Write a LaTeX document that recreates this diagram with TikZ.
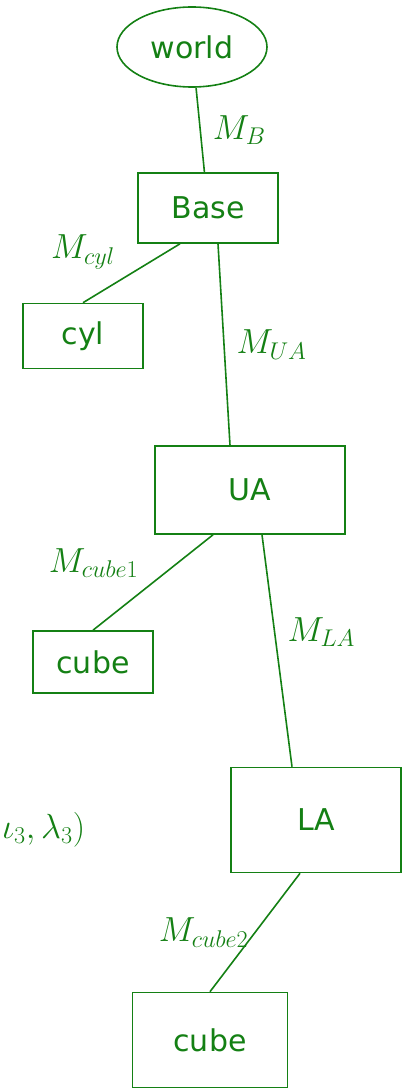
\documentclass[tikz,border=0pt]{standalone}
\usepackage{fontspec}
\setsansfont{DejaVu Sans}
\usetikzlibrary{positioning,shapes.geometric}
\definecolor{pen}{RGB}{20,128,20}
\begin{document}
\begin{tikzpicture}[x=1pt,y=-1pt,font=\sffamily\fontsize{30}{34}\selectfont,line width=1.6pt,color=pen]
  \tikzstyle{part}=[draw,minimum width=140pt,minimum height=70pt,align=center]
  \tikzstyle{frame}=[draw,ellipse,minimum width=150pt,minimum height=80pt]
  \tikzstyle{tf}=[font=\fontsize{24}{28}\selectfont,inner sep=1pt,scale=1.4,transform shape]
  \useasboundingbox (0,0) rectangle (407,1089);
  \node[frame] (world) at (192,47) {world};
  \node[part] (base) at (208,208) {Base};
  \node[part,minimum width=120pt,minimum height=65pt] (cyl) at (83,336) {cyl};
  \node[part,minimum width=190pt,minimum height=88pt] (ua) at (250,490) {UA};
  \node[part,minimum width=120pt,minimum height=62pt] (cubeone) at (93,662) {cube};
  \node[part,minimum width=170pt,minimum height=105pt] (la) at (316,820) {LA};
  \node[part,minimum width=155pt,minimum height=95pt] (cubetwo) at (210,1040) {cube};
  \node[tf,anchor=west,inner sep=0pt] (angles) at (1,830) {$\iota_3,\lambda_3)$};
  \draw (world) -- node[tf,right=10pt]{$M_B$} (base);
  \draw (base.south) ++(-28,0) -- node[tf,above left=2pt and 14pt]{$M_{cyl}$} (cyl.north);
  \draw (base.south) ++(10,0) -- node[tf,right=10pt]{$M_{UA}$} (ua.north west -| 230,0);
  \draw (ua.south) ++(-37,0) -- node[tf,above left=2pt and 12pt]{$M_{cube1}$} (cubeone.north);
  \draw (ua.south) ++(12,0) -- node[tf,above right=2pt and 8pt]{$M_{LA}$} (la.north west -| 292,0);
  \draw (la.south) ++(-16,0) -- node[tf,left=4pt]{$M_{cube2}$} (cubetwo.north);
\end{tikzpicture}
\end{document}
